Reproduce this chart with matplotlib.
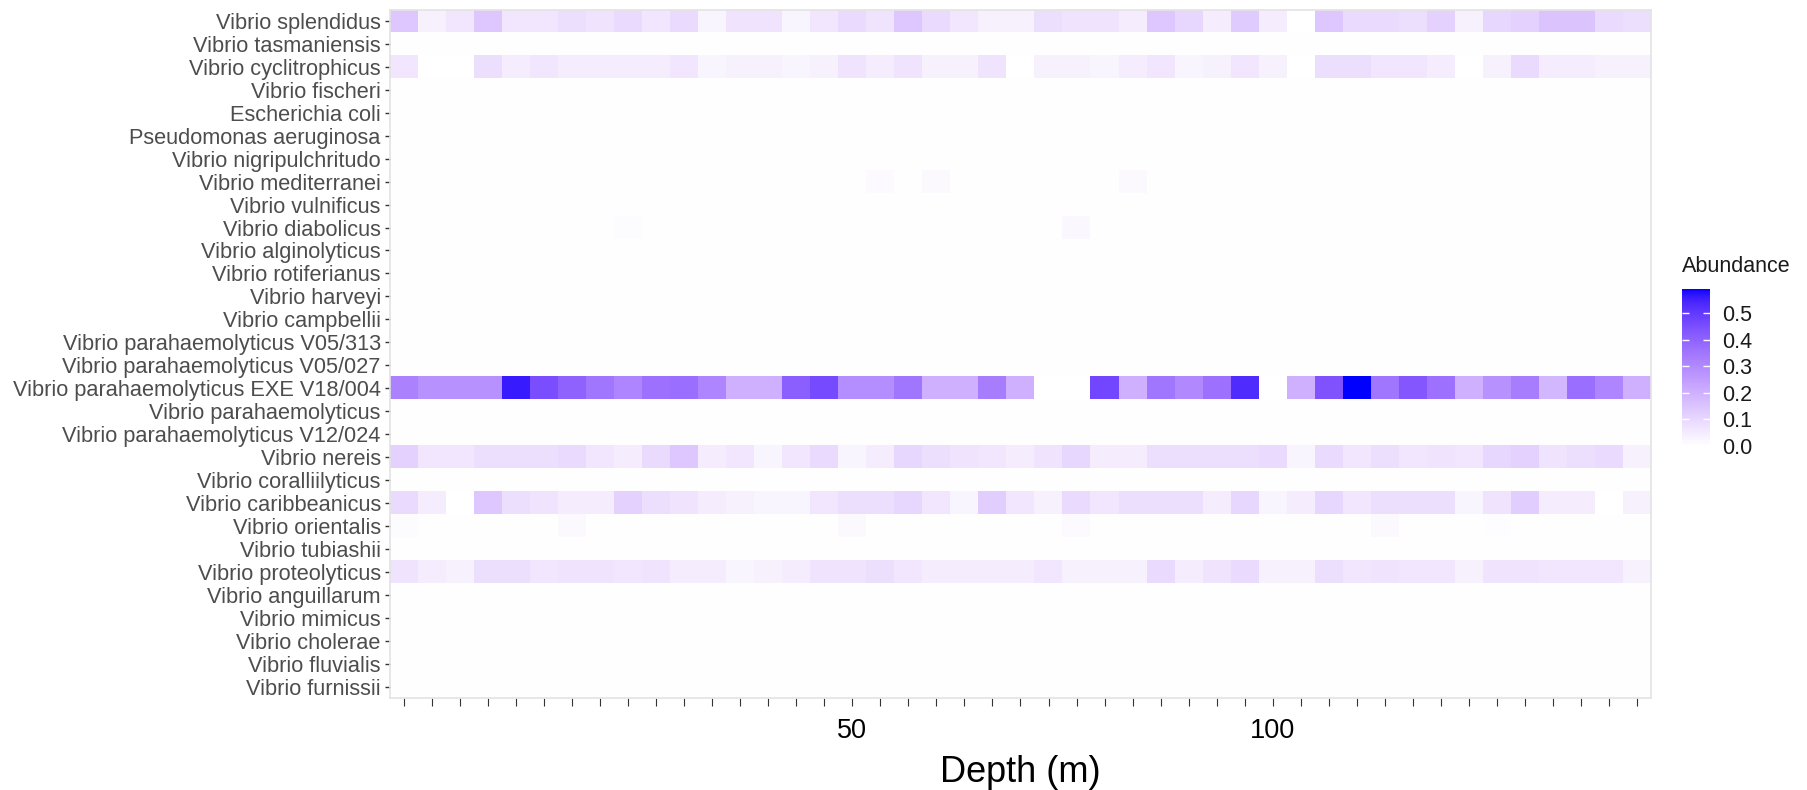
import numpy as np
import matplotlib
matplotlib.use("Agg")
import matplotlib.pyplot as plt
from matplotlib.colors import ListedColormap

plt.rcParams["font.family"] = ["Liberation Sans", "DejaVu Sans"]

nan = np.nan

# Species, top to bottom
species = [
    "Vibrio splendidus", "Vibrio tasmaniensis", "Vibrio cyclitrophicus",
    "Vibrio fischeri", "Escherichia coli", "Pseudomonas aeruginosa",
    "Vibrio nigripulchritudo", "Vibrio mediterranei", "Vibrio vulnificus",
    "Vibrio diabolicus", "Vibrio alginolyticus", "Vibrio rotiferianus",
    "Vibrio harveyi", "Vibrio campbellii", "Vibrio parahaemolyticus V05/313",
    "Vibrio parahaemolyticus V05/027", "Vibrio parahaemolyticus EXE V18/004",
    "Vibrio parahaemolyticus", "Vibrio parahaemolyticus V12/024",
    "Vibrio nereis", "Vibrio coralliilyticus", "Vibrio caribbeanicus",
    "Vibrio orientalis", "Vibrio tubiashii", "Vibrio proteolyticus",
    "Vibrio anguillarum", "Vibrio mimicus", "Vibrio cholerae",
    "Vibrio fluvialis", "Vibrio furnissii",
]

# Sampled depths (m), one column each
depths = [2, 5, 8, 11, 14, 17, 20, 23, 26, 29, 32, 35, 38, 41, 44, 47,
          50, 53, 57, 60, 63, 67, 70, 73, 77, 80, 83, 87, 90, 93, 97,
          100, 103, 107, 110, 113, 117, 120, 123, 127, 130, 133, 137, 140, 143]
labeled_depths = [50, 100]

splendidus = [0.14, 0.035, 0.06, 0.14, 0.06, 0.06, 0.08, 0.07, 0.09, 0.06,
              0.09, 0.025, 0.07, 0.07, 0.025, 0.06, 0.09, 0.07, 0.14, 0.09,
              0.06, 0.035, 0.035, 0.08, 0.07, 0.07, 0.045, 0.14, 0.10, 0.045,
              0.13, 0.045, nan, 0.14, 0.09, 0.09, 0.08, 0.115, 0.035, 0.10,
              0.115, 0.15, 0.15, 0.09, 0.08]
cyclitrophicus = [0.06, nan, nan, 0.08, 0.045, 0.06, 0.045, 0.045, 0.045, 0.045,
                  0.06, 0.025, 0.035, 0.035, 0.025, 0.035, 0.07, 0.045, 0.07, 0.035,
                  0.035, 0.07, nan, 0.035, 0.035, 0.025, 0.045, 0.06, 0.025, 0.035,
                  0.06, 0.035, nan, 0.08, 0.08, 0.06, 0.06, 0.045, nan, 0.035,
                  0.09, 0.045, 0.045, 0.035, 0.035]
exe_v18_004 = [0.32, 0.28, 0.28, 0.28, 0.56, 0.45, 0.40, 0.35, 0.31, 0.36,
               0.37, 0.31, 0.20, 0.20, 0.41, 0.46, 0.29, 0.29, 0.35, 0.20,
               0.20, 0.33, 0.20, nan, nan, 0.47, 0.20, 0.35, 0.30, 0.36,
               0.53, nan, 0.20, 0.44, 0.59, 0.35, 0.43, 0.36, 0.20, 0.28,
               0.33, 0.18, 0.37, 0.31, 0.20]
nereis = [0.115, 0.06, 0.06, 0.08, 0.08, 0.08, 0.09, 0.06, 0.045, 0.09,
          0.14, 0.045, 0.06, 0.025, 0.06, 0.09, 0.025, 0.045, 0.10, 0.08,
          0.07, 0.06, 0.045, 0.07, 0.10, 0.045, 0.045, 0.08, 0.08, 0.08,
          0.08, 0.09, 0.025, 0.09, 0.06, 0.08, 0.06, 0.07, 0.06, 0.10,
          0.115, 0.07, 0.08, 0.09, 0.035]
caribbeanicus = [0.09, 0.045, nan, 0.14, 0.08, 0.07, 0.045, 0.045, 0.115, 0.08,
                 0.07, 0.045, 0.035, 0.025, 0.025, 0.06, 0.08, 0.08, 0.10, 0.06,
                 0.025, 0.125, 0.06, 0.035, 0.09, 0.06, 0.08, 0.08, 0.08, 0.045,
                 0.10, 0.025, 0.045, 0.10, 0.06, 0.08, 0.08, 0.08, 0.025, 0.07,
                 0.125, 0.045, 0.045, nan, 0.035]
proteolyticus = [0.07, 0.045, 0.035, 0.08, 0.08, 0.06, 0.07, 0.07, 0.06, 0.07,
                 0.045, 0.045, 0.025, 0.035, 0.045, 0.07, 0.07, 0.08, 0.06, 0.045,
                 0.045, 0.045, 0.045, 0.06, 0.035, 0.035, 0.035, 0.09, 0.045, 0.07,
                 0.09, 0.035, 0.035, 0.08, 0.06, 0.07, 0.06, 0.06, 0.035, 0.07,
                 0.07, 0.06, 0.06, 0.06, 0.035]
# Sparse detections, keyed by depth
mediterranei = {53: 0.012, 60: 0.018, 83: 0.018}
diabolicus = {26: 0.010, 77: 0.020}
orientalis = {2: 0.010, 20: 0.015, 50: 0.015, 77: 0.012, 113: 0.015, 127: 0.008}

# Assemble the species x depth table (absent species are zero)
table = np.zeros((len(species), len(depths)))
table[species.index("Vibrio splendidus")] = splendidus
table[species.index("Vibrio cyclitrophicus")] = cyclitrophicus
table[species.index("Vibrio parahaemolyticus EXE V18/004")] = exe_v18_004
table[species.index("Vibrio nereis")] = nereis
table[species.index("Vibrio caribbeanicus")] = caribbeanicus
table[species.index("Vibrio proteolyticus")] = proteolyticus
for name, cells in [("Vibrio mediterranei", mediterranei),
                    ("Vibrio diabolicus", diabolicus),
                    ("Vibrio orientalis", orientalis)]:
    r = species.index(name)
    for d, v in cells.items():
        table[r, depths.index(d)] = v


# White -> blue gradient interpolated in CIELAB
def srgb_to_lab(rgb):
    rgb = np.asarray(rgb, float)
    lin = np.where(rgb <= 0.04045, rgb / 12.92, ((rgb + 0.055) / 1.055) ** 2.4)
    M = np.array([[0.4124, 0.3576, 0.1805],
                  [0.2126, 0.7152, 0.0722],
                  [0.0193, 0.1192, 0.9505]])
    X, Y, Z = M @ lin
    X /= 0.95047
    Z /= 1.08883
    f = lambda t: np.where(t > 0.008856, np.cbrt(t), 7.787 * t + 16 / 116)
    fx, fy, fz = f(X), f(Y), f(Z)
    return np.array([116 * fy - 16, 500 * (fx - fy), 200 * (fy - fz)])


def lab_to_srgb(lab):
    L, a, b = lab
    fy = (L + 16) / 116
    fx = fy + a / 500
    fz = fy - b / 200
    finv = lambda t: np.where(t ** 3 > 0.008856, t ** 3, (t - 16 / 116) / 7.787)
    xyz = np.array([0.95047 * finv(fx), finv(fy), 1.08883 * finv(fz)])
    M = np.array([[3.2406, -1.5372, -0.4986],
                  [-0.9689, 1.8758, 0.0415],
                  [0.0557, -0.2040, 1.0570]])
    lin = np.clip(M @ xyz, 0, 1)
    out = np.where(lin <= 0.0031308, 12.92 * lin, 1.055 * lin ** (1 / 2.4) - 0.055)
    return np.clip(out, 0, 1)


lab_lo = srgb_to_lab([1, 1, 1])
lab_hi = srgb_to_lab([0, 0, 1])
t = np.linspace(0, 1, 256)
lab_ramp = lab_lo[:, None] * (1 - t) + lab_hi[:, None] * t
cmap = ListedColormap(lab_to_srgb(lab_ramp).T)
cmap.set_bad("white")

vmax = np.nanmax(table)

W, H = 1808, 790
fig = plt.figure(figsize=(W / 100, H / 100), dpi=100)
ax = fig.add_axes([390 / W, 1 - 698 / H, (1651 - 390) / W, (698 - 9.5) / H])

im = ax.imshow(np.ma.masked_invalid(table), cmap=cmap, vmin=0, vmax=vmax,
               aspect="auto", interpolation="nearest",
               extent=(0, len(depths), len(species), 0))
ax.set_xlim(0, len(depths))
ax.set_ylim(len(species), 0)

ax.set_xticks(np.arange(len(depths)) + 0.5)
ax.set_xticklabels([str(d) if d in labeled_depths else "" for d in depths])
ax.set_yticks(np.arange(len(species)) + 0.5)
ax.set_yticklabels(species)

ax.tick_params(axis="x", length=5.5, width=0.8, color="#333333",
               labelsize=19.5, labelcolor="black", pad=9)
ax.tick_params(axis="y", length=3.6, width=1.0, color="#333333",
               labelsize=15.7, labelcolor="#4D4D4D", pad=3)
for s in ax.spines.values():
    s.set_color("#E3E3E3")
    s.set_linewidth(1.2)

ax.set_xlabel("Depth (m)", fontsize=26, color="black", labelpad=8)

# Colour bar legend
cax = fig.add_axes([1682 / W, 1 - 446 / H, 28 / W, 157 / H])
cb = fig.colorbar(im, cax=cax)
cb.outline.set_visible(False)
cb_ticks = [0.0, 0.1, 0.2, 0.3, 0.4, 0.5]
cb.set_ticks(cb_ticks)
cb.set_ticklabels([f"{v:.1f}" for v in cb_ticks])
cax.tick_params(direction="in", length=5, width=1, color="white",
                left=True, right=True, labelleft=False, labelright=True,
                labelsize=15.5, labelcolor="#1A1A1A", pad=9)
fig.text(1682 / W, 1 - 267 / H, "Abundance", fontsize=15.5, color="#1A1A1A",
         ha="left", va="center")

fig.savefig("out.png", dpi=100, facecolor="white")
